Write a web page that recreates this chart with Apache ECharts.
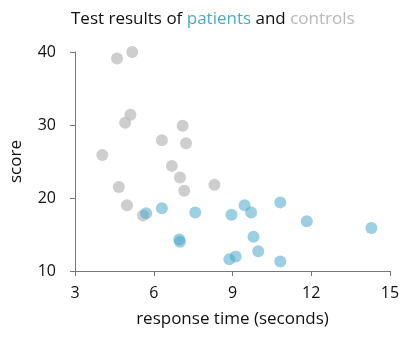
<!DOCTYPE html>
<html><head><meta charset="utf-8">
<script src="https://cdn.jsdelivr.net/npm/echarts@6/dist/echarts.min.js"></script>
<style>html,body{margin:0;padding:0;background:#fff}#c{width:407px;height:340px}</style>
</head><body><div id="c"></div>
<script>
var xTicks = [3, 6, 9, 12, 15];
var yTicks = [10, 20, 30, 40];
var patientsX = [5.71, 6.31, 7.58, 6.97, 7.0, 8.96, 9.46, 9.71, 10.82, 11.83, 14.29, 9.80, 9.98, 8.88, 9.12, 10.82];
var patientsY = [17.9, 18.6, 18.0, 14.3, 14.0, 17.7, 19.0, 18.0, 19.4, 16.8, 15.9, 14.7, 12.7, 11.6, 12.0, 11.3];
var controlsX = [4.60, 5.18, 5.11, 4.91, 7.10, 6.31, 7.23, 4.04, 6.69, 7.0, 4.67, 7.16, 8.31, 4.98, 5.59];
var controlsY = [39.1, 40.0, 31.4, 30.3, 29.9, 27.9, 27.5, 25.9, 24.4, 22.8, 21.5, 21.0, 21.8, 19.0, 17.6];

function pairs(xs, ys){ return xs.map(function(x,i){ return [x, ys[i]]; }); }
var font = 'Open Sans';
var chart = echarts.init(document.getElementById('c'), null, {renderer:'canvas'});
chart.setOption({
  animation: false,
  title: {
    text: '{a|Test results of }{b|patients}{a| and }{c|controls}',
    left: 71, top: 11, padding: 0,
    textStyle: {
      fontFamily: font, fontSize: 17, fontWeight: 'normal', color: '#111',
      rich: {
        a: {fontFamily: font, fontSize: 17, color: '#111'},
        b: {fontFamily: font, fontSize: 17, color: '#4ea9c9'},
        c: {fontFamily: font, fontSize: 17, color: '#b8b8b8'}
      }
    }
  },
  grid: {left: 73, right: 17, top: 52, bottom: 69},
  xAxis: {
    type: 'value', min: xTicks[0], max: xTicks[xTicks.length-1], interval: 3,
    name: 'response time (seconds)', nameLocation: 'middle', nameGap: 40,
    nameTextStyle: {fontFamily: font, fontSize: 17, color: '#111'},
    axisLine: {lineStyle: {color: '#777'}},
    axisTick: {show: true, length: 5, lineStyle: {color: '#777'}},
    axisLabel: {margin: 14, fontFamily: font, fontSize: 16, color: '#111'},
    splitLine: {show: false}
  },
  yAxis: {
    type: 'value', min: yTicks[0], max: yTicks[yTicks.length-1], interval: 10,
    name: 'score', nameLocation: 'middle', nameGap: 50,
    nameTextStyle: {fontFamily: font, fontSize: 17, color: '#111'},
    axisLine: {show: true, lineStyle: {color: '#777'}},
    axisTick: {show: true, length: 5, lineStyle: {color: '#777'}},
    axisLabel: {margin: 19, fontFamily: font, fontSize: 16, color: '#111'},
    splitLine: {show: false}
  },
  series: [
    {name: 'controls', type: 'scatter', symbolSize: 12, data: pairs(controlsX, controlsY),
     itemStyle: {color: '#bdbdbd', opacity: 0.75}},
    {name: 'patients', type: 'scatter', symbolSize: 12, data: pairs(patientsX, patientsY),
     itemStyle: {color: '#4aa8c8', opacity: 0.55}}
  ]
});
</script></body></html>
